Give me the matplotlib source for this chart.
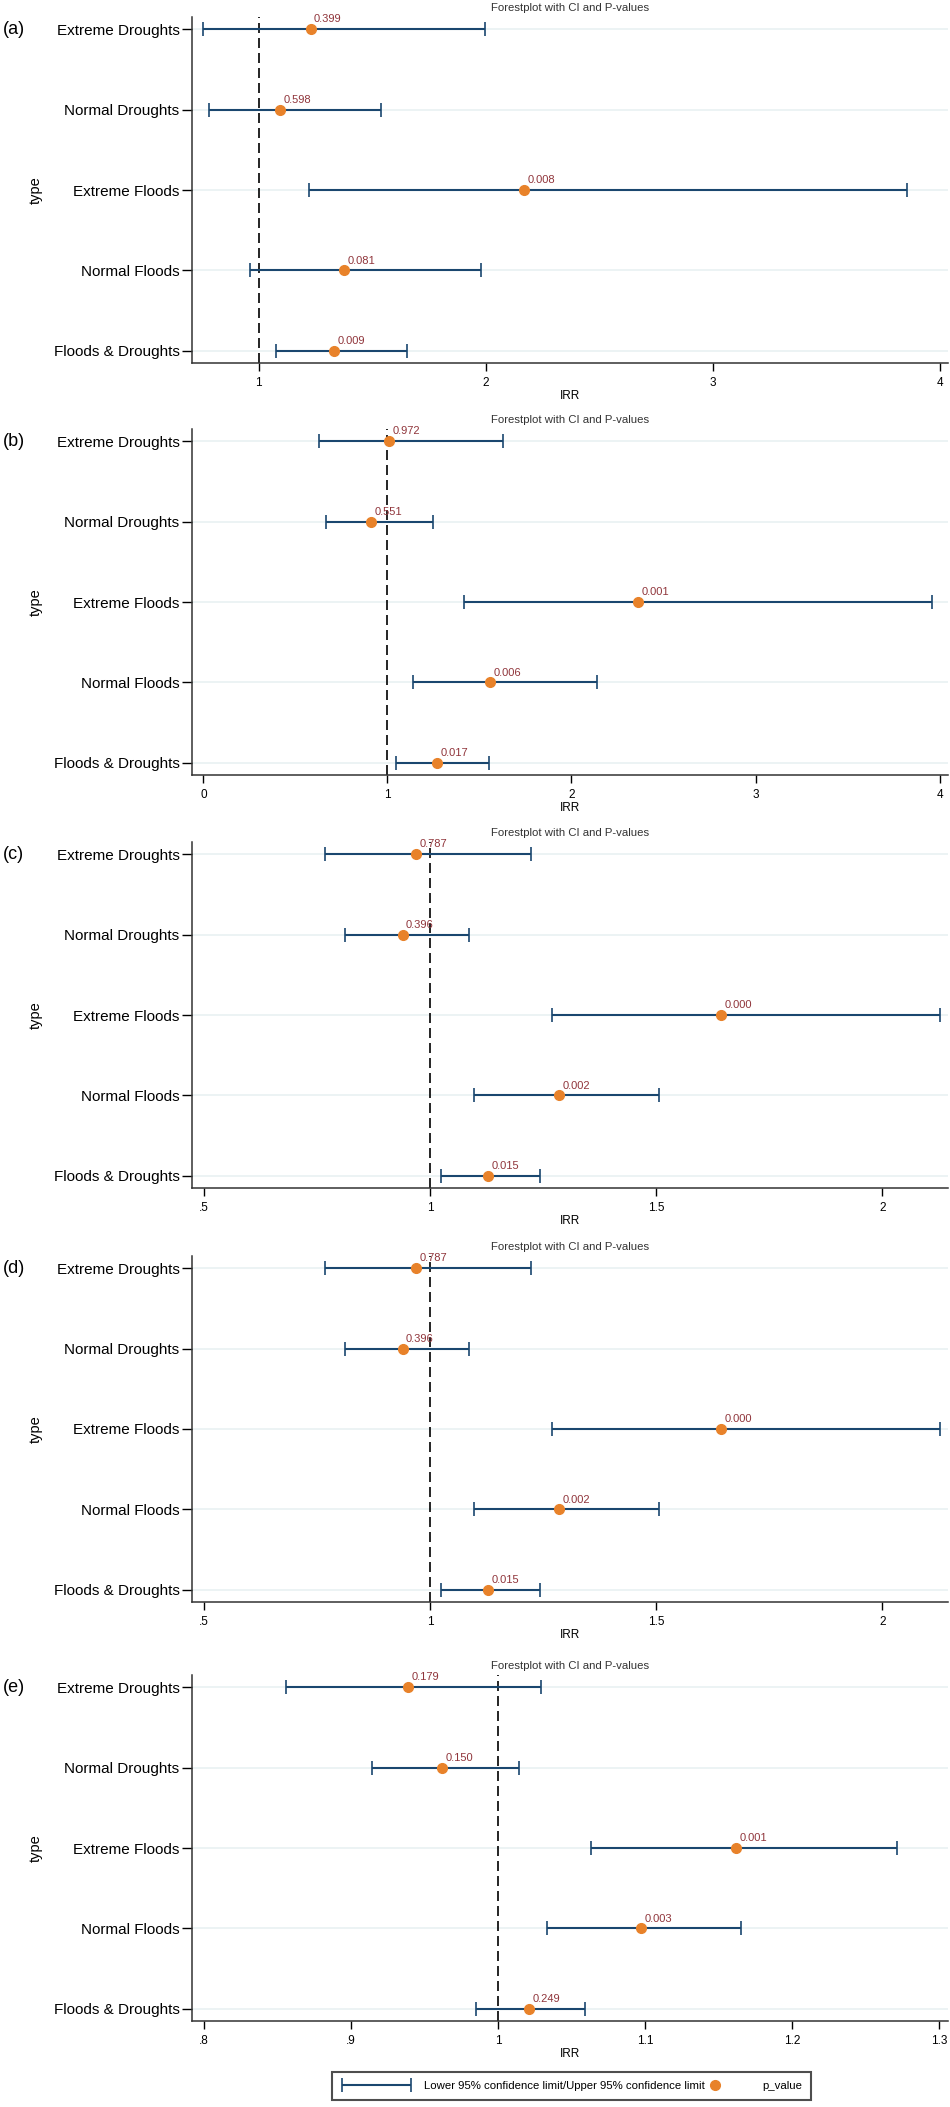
import matplotlib.pyplot as plt
from matplotlib.container import ErrorbarContainer
from matplotlib.legend_handler import HandlerErrorbar, HandlerLine2D

plt.rcParams['font.family'] = ['Liberation Sans', 'DejaVu Sans']

types = ["Extreme Droughts", "Normal Droughts", "Extreme Floods", "Normal Floods", "Floods & Droughts"]

# (a)
irr_a = [1.228, 1.094, 2.169, 1.376, 1.331]
low_a = [0.753, 0.780, 1.223, 0.960, 1.075]
upp_a = [1.995, 1.538, 3.855, 1.978, 1.653]
p_a = ["0.399", "0.598", "0.008", "0.081", "0.009"]

# (b)
irr_b = [1.010, 0.911, 2.364, 1.556, 1.272]
low_b = [0.626, 0.666, 1.414, 1.139, 1.046]
upp_b = [1.629, 1.245, 3.960, 2.136, 1.553]
p_b = ["0.972", "0.551", "0.001", "0.006", "0.017"]

# (c)
irr_c = [0.969, 0.939, 1.643, 1.285, 1.129]
low_c = [0.768, 0.812, 1.269, 1.097, 1.024]
upp_c = [1.222, 1.086, 2.127, 1.506, 1.243]
p_c = ["0.787", "0.396", "0.000", "0.002", "0.015"]

# (d) same estimates as (c)
irr_d = [0.969, 0.939, 1.643, 1.285, 1.129]
low_d = [0.768, 0.812, 1.269, 1.097, 1.024]
upp_d = [1.222, 1.086, 2.127, 1.506, 1.243]
p_d = ["0.787", "0.396", "0.000", "0.002", "0.015"]

# (e)
irr_e = [0.939, 0.962, 1.162, 1.097, 1.021]
low_e = [0.856, 0.914, 1.063, 1.033, 0.985]
upp_e = [1.029, 1.014, 1.271, 1.165, 1.059]
p_e = ["0.179", "0.150", "0.001", "0.003", "0.249"]

ticks_a = [1, 2, 3, 4]
ticklab_a = ["1", "2", "3", "4"]
ticks_b = [0, 1, 2, 3, 4]
ticklab_b = ["0", "1", "2", "3", "4"]
ticks_c = [0.5, 1, 1.5, 2]
ticklab_c = [".5", "1", "1.5", "2"]
ticks_e = [0.8, 0.9, 1, 1.1, 1.2, 1.3]
ticklab_e = [".8", ".9", "1", "1.1", "1.2", "1.3"]

navy = '#1a476f'
orange = '#e8822a'
cranberry = '#90353b'
grid_col = '#eaf2f3'

panels = [
    ("(a)", irr_a, low_a, upp_a, p_a, ticks_a, ticklab_a, (0.706, 4.036), 17),
    ("(b)", irr_b, low_b, upp_b, p_b, ticks_b, ticklab_b, (-0.062, 4.046), 429),
    ("(c)", irr_c, low_c, upp_c, p_c, ticks_c, ticklab_c, (0.4735, 2.145), 842),
    ("(d)", irr_d, low_d, upp_d, p_d, ticks_c, ticklab_c, (0.4735, 2.145), 1256),
    ("(e)", irr_e, low_e, upp_e, p_e, ticks_e, ticklab_e, (0.7918, 1.306), 1675),
]


class DotAtEnd(HandlerLine2D):
    # put the legend dot at the right end of its handle box
    def get_xdata(self, legend, xdescent, ydescent, width, height, fontsize):
        xdata, _ = super().get_xdata(legend, xdescent, ydescent, width, height, fontsize)
        return xdata, [width - xdescent - 0.45 * fontsize]


W, H = 950, 2107
fig = plt.figure(figsize=(W / 100, H / 100), dpi=100)

ypos = [5, 4, 3, 2, 1]
ax_h = 346

for lab, irr, low, upp, pv, tks, tkl, xl, top in panels:
    ax = fig.add_axes([192 / W, 1 - (top + ax_h) / H, 756 / W, ax_h / H])
    for y in ypos:
        ax.axhline(y, color=grid_col, lw=1.3, zorder=0)
    ax.axvline(1, color='black', lw=1.2, ls=(0, (6, 3)), zorder=1)
    xerr = [[i - l for i, l in zip(irr, low)], [u - i for i, u in zip(irr, upp)]]
    eb = ax.errorbar(irr, ypos, xerr=xerr, fmt='none', ecolor=navy, elinewidth=1.5,
                     capsize=5, capthick=1.2, zorder=2)
    dots, = ax.plot(irr, ypos, 'o', color=orange, ms=7, zorder=3, ls='none')
    for x, y, p in zip(irr, ypos, pv):
        ax.annotate(p, (x, y), xytext=(2.5, 5), textcoords='offset points',
                    ha='left', va='baseline', fontsize=8, color=cranberry)
    ax.set_xlim(*xl)
    ax.set_ylim(0.85, 5.15)
    ax.set_xticks(tks)
    ax.set_xticklabels(tkl)
    ax.set_yticks(ypos)
    ax.set_yticklabels(types, fontsize=11)
    ax.tick_params(axis='x', labelsize=8.5, length=6, width=1, pad=4)
    ax.tick_params(axis='y', length=7, width=1, pad=2)
    for s in ['top', 'right']:
        ax.spines[s].set_visible(False)
    for s in ['left', 'bottom']:
        ax.spines[s].set_linewidth(1.1)
        ax.spines[s].set_color('#333333')
    ax.set_xlabel("IRR", fontsize=8.5, labelpad=1)
    ax.set_ylabel("type", fontsize=10.5)
    ax.yaxis.set_label_coords(-149 / 756, 0.5)
    ax.set_title("Forestplot with CI and P-values", fontsize=8.2, color='#333333', pad=4)
    ax.text(-189 / 756, 5, lab, transform=ax.get_yaxis_transform(), fontsize=13,
            ha='left', va='center')

leg = fig.legend([eb, dots], ["Lower 95% confidence limit/Upper 95% confidence limit", "p_value"],
                 loc='center', bbox_to_anchor=(571.5 / W, 1 - 2086 / H), ncol=2,
                 fontsize=8.2, frameon=True, fancybox=False, edgecolor='#222222',
                 handlelength=6.3, handletextpad=0.97, columnspacing=-2.2, borderpad=0.8,
                 handler_map={ErrorbarContainer: HandlerErrorbar(xerr_size=3.05),
                              type(dots): DotAtEnd()})
leg.get_frame().set_linewidth(1.5)

fig.savefig("out.png", dpi=100)
